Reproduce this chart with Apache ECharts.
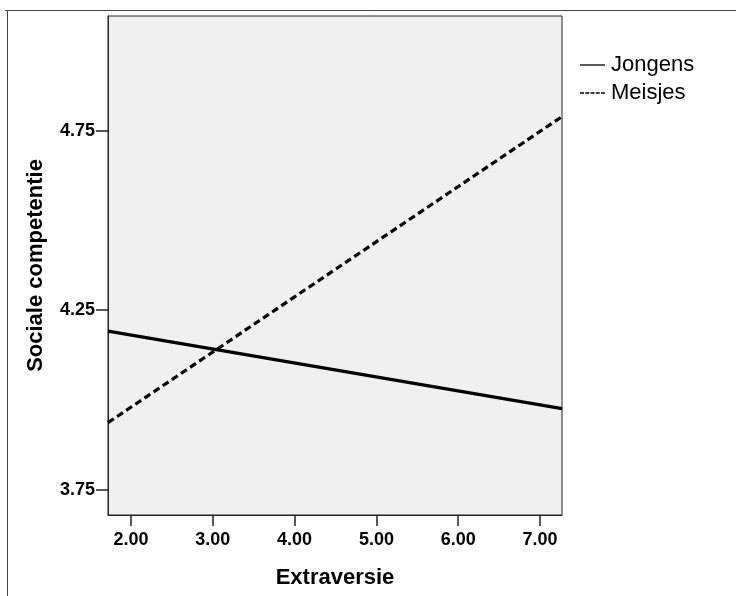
<!DOCTYPE html>
<html>
<head>
<meta charset="utf-8">
<script src="https://cdn.jsdelivr.net/npm/echarts@6/dist/echarts.min.js"></script>
<style>html,body{margin:0;padding:0;background:#fff;}#c{width:736px;height:596px;}</style>
</head>
<body>
<div id="c"></div>
<script>
var xEnds = [1.719, 7.269];
var jongens = [4.192, 3.976];
var meisjes = [3.937, 4.789];
var xTicks = [2, 3, 4, 5, 6, 7];
var yTicks = [3.75, 4.25, 4.75];
var seriesNames = ['Jongens', 'Meisjes'];

var chart = echarts.init(document.getElementById('c'));
var font = '"Liberation Sans", Arial, sans-serif';
chart.setOption({
  animation: false,
  backgroundColor: '#fff',
  graphic: [
    {type: 'line', shape: {x1: 5, y1: 10.5, x2: 736, y2: 10.5}, style: {stroke: '#444', lineWidth: 1}},
    {type: 'line', shape: {x1: 7.5, y1: 10, x2: 7.5, y2: 596}, style: {stroke: '#444', lineWidth: 1}}
  ],
  grid: {left: 108, top: 16, right: 174, bottom: 81, show: true, backgroundColor: '#f0f0f0', borderColor: '#222', borderWidth: 1},
  legend: {
    orient: 'vertical', left: 575, top: 49, itemWidth: 25, itemHeight: 1.3, itemGap: 6,
    textStyle: {fontFamily: font, fontSize: 22, color: '#000', padding: [0, 0, 0, 1]},
    data: [
      {name: seriesNames[0], icon: 'rect', itemStyle: {color: '#000'}},
      {name: seriesNames[1], icon: 'path://M0,0h4v1.3h-4zM5.25,0h4v1.3h-4zM10.5,0h4v1.3h-4zM15.75,0h4v1.3h-4zM21,0h4v1.3h-4z', itemStyle: {color: '#000'}}
    ]
  },
  xAxis: {
    type: 'value', min: xEnds[0], max: xEnds[1],
    name: 'Extraversie', nameLocation: 'middle', nameGap: 52,
    nameTextStyle: {fontFamily: font, fontSize: 22, fontWeight: 'bold', color: '#000'},
    axisLine: {show: true, lineStyle: {color: '#222'}},
    axisTick: {show: true, length: 11, customValues: xTicks, lineStyle: {color: '#222', width: 1.5}},
    axisLabel: {customValues: xTicks, margin: 16, fontFamily: font, fontSize: 18, fontWeight: 'bold', color: '#000',
      formatter: function (v) { return v.toFixed(2); }},
    splitLine: {show: false}
  },
  yAxis: {
    type: 'value', min: 3.68, max: 5.069,
    name: 'Sociale competentie', nameLocation: 'middle', nameGap: 61,
    nameTextStyle: {fontFamily: font, fontSize: 22, fontWeight: 'bold', color: '#000'},
    axisLine: {show: true, lineStyle: {color: '#222'}},
    axisTick: {show: true, length: 12, customValues: yTicks, lineStyle: {color: '#222', width: 1.5}},
    axisLabel: {customValues: yTicks, margin: 13, fontFamily: font, fontSize: 18, fontWeight: 'bold', color: '#000',
      formatter: function (v) { return v.toFixed(2); }},
    splitLine: {show: false}
  },
  series: [
    {name: seriesNames[0], type: 'line', symbol: 'none', data: xEnds.map(function (x, i) { return [x, jongens[i]]; }),
      lineStyle: {color: '#000', width: 3.2, type: 'solid'}, itemStyle: {color: '#000'}},
    {name: seriesNames[1], type: 'line', symbol: 'none', data: xEnds.map(function (x, i) { return [x, meisjes[i]]; }),
      lineStyle: {color: '#000', width: 3.2, type: [7, 4]}, itemStyle: {color: '#000'}}
  ]
});
</script>
</body>
</html>
